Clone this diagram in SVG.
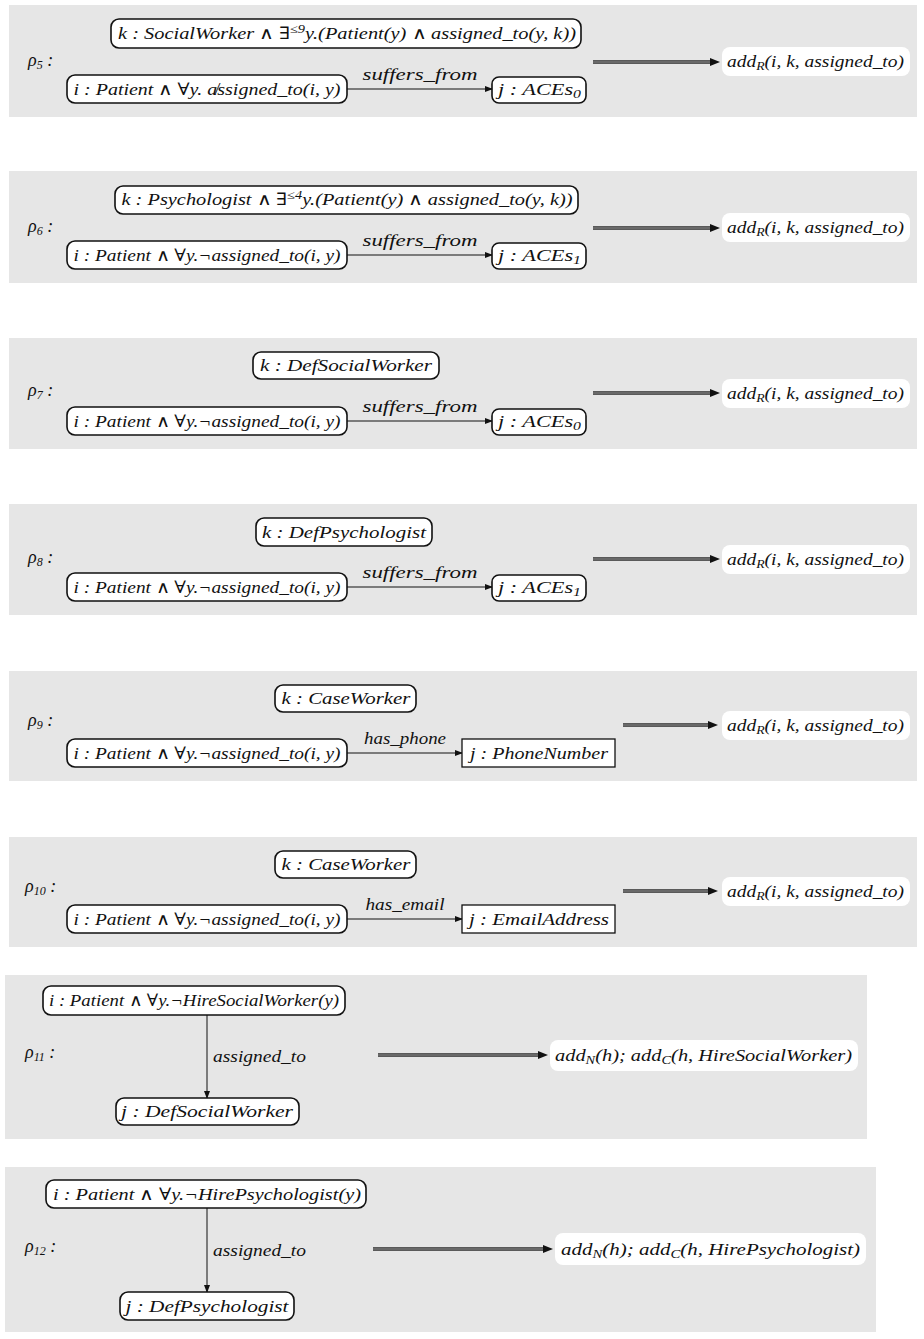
<svg xmlns="http://www.w3.org/2000/svg" width="924" height="1339" viewBox="0 0 924 1339">
<style>
.bg{fill:#fff}
.panel{fill:#e6e6e6}
.node{fill:#fff;stroke:#111;stroke-width:1.6}
.sq{fill:#fff;stroke:#111;stroke-width:1.3}
.res{fill:#fff}
.t{font-family:"Liberation Serif","DejaVu Serif",serif;font-style:italic;font-size:17px;fill:#111}
.lbl{font-family:"Liberation Serif","DejaVu Serif",serif;font-style:italic;font-size:18px;fill:#111}
.m{font-family:"DejaVu Sans",sans-serif;font-weight:200;font-style:normal}
.e{stroke:#111;stroke-width:1;fill:none}
.dout{stroke:#2b2b2b;stroke-width:3.6;fill:none}
.din{stroke:#a8a8a8;stroke-width:1;fill:none}
</style>
<defs>
<marker id="ah" markerUnits="userSpaceOnUse" markerWidth="8" markerHeight="6" refX="7" refY="3" orient="auto"><path d="M0,0 L8,3 L0,6 z" fill="#111"/></marker>
<marker id="dah" markerUnits="userSpaceOnUse" markerWidth="10" markerHeight="8" refX="2" refY="4" orient="auto"><path d="M0,0 L10,4 L0,8 z" fill="#111"/></marker>
</defs>
<rect class="bg" x="0" y="0" width="924" height="1339"/>

<g id="panels">
<rect class="panel" x="9" y="5" width="908" height="112"/>
<rect class="panel" x="9" y="171" width="908" height="112"/>
<rect class="panel" x="9" y="338" width="908" height="111"/>
<rect class="panel" x="9" y="504" width="908" height="111"/>
<rect class="panel" x="9" y="671" width="908" height="110"/>
<rect class="panel" x="9" y="837" width="908" height="110"/>
<rect class="panel" x="5" y="975" width="862" height="164"/>
<rect class="panel" x="5" y="1167" width="871" height="165"/>
</g>

<g id="rule-labels">
<text class="lbl" x="28" y="66">ρ<tspan font-size="12" dy="3">5</tspan><tspan dy="-3"> :</tspan></text>
<text class="lbl" x="28" y="232">ρ<tspan font-size="12" dy="3">6</tspan><tspan dy="-3"> :</tspan></text>
<text class="lbl" x="28" y="396">ρ<tspan font-size="12" dy="3">7</tspan><tspan dy="-3"> :</tspan></text>
<text class="lbl" x="28" y="563">ρ<tspan font-size="12" dy="3">8</tspan><tspan dy="-3"> :</tspan></text>
<text class="lbl" x="28" y="726">ρ<tspan font-size="12" dy="3">9</tspan><tspan dy="-3"> :</tspan></text>
<text class="lbl" x="25" y="892">ρ<tspan font-size="12" dy="3">10</tspan><tspan dy="-3"> :</tspan></text>
<text class="lbl" x="25" y="1058">ρ<tspan font-size="12" dy="3">11</tspan><tspan dy="-3"> :</tspan></text>
<text class="lbl" x="25" y="1252">ρ<tspan font-size="12" dy="3">12</tspan><tspan dy="-3"> :</tspan></text>
</g>

<g id="connectors">
<line class="e" x1="347" y1="89" x2="492" y2="89" marker-end="url(#ah)"/>
<line class="e" x1="347" y1="255" x2="492" y2="255" marker-end="url(#ah)"/>
<line class="e" x1="347" y1="421" x2="492" y2="421" marker-end="url(#ah)"/>
<line class="e" x1="347" y1="587" x2="492" y2="587" marker-end="url(#ah)"/>
<line class="e" x1="347" y1="753" x2="462" y2="753" marker-end="url(#ah)"/>
<line class="e" x1="347" y1="919" x2="462" y2="919" marker-end="url(#ah)"/>
<line class="e" x1="207" y1="1015" x2="207" y2="1098" marker-end="url(#ah)"/>
<line class="e" x1="207" y1="1208" x2="207" y2="1292" marker-end="url(#ah)"/>
<text class="t" x="420" y="80" text-anchor="middle" textLength="115" lengthAdjust="spacingAndGlyphs">suffers_from</text>
<text class="t" x="420" y="246" text-anchor="middle" textLength="115" lengthAdjust="spacingAndGlyphs">suffers_from</text>
<text class="t" x="420" y="412" text-anchor="middle" textLength="115" lengthAdjust="spacingAndGlyphs">suffers_from</text>
<text class="t" x="420" y="578" text-anchor="middle" textLength="115" lengthAdjust="spacingAndGlyphs">suffers_from</text>
<text class="t" x="405" y="744" text-anchor="middle" textLength="82" lengthAdjust="spacingAndGlyphs">has_phone</text>
<text class="t" x="405" y="910" text-anchor="middle" textLength="79" lengthAdjust="spacingAndGlyphs">has_email</text>
<text class="t" x="213" y="1062" textLength="93" lengthAdjust="spacingAndGlyphs">assigned_to</text>
<text class="t" x="213" y="1256" textLength="93" lengthAdjust="spacingAndGlyphs">assigned_to</text>
<line class="dout" x1="593" y1="62" x2="712" y2="62"/><line class="din" x1="593" y1="62" x2="712" y2="62" marker-end="url(#dah)"/>
<line class="dout" x1="593" y1="228" x2="712" y2="228"/><line class="din" x1="593" y1="228" x2="712" y2="228" marker-end="url(#dah)"/>
<line class="dout" x1="593" y1="393" x2="712" y2="393"/><line class="din" x1="593" y1="393" x2="712" y2="393" marker-end="url(#dah)"/>
<line class="dout" x1="593" y1="559" x2="712" y2="559"/><line class="din" x1="593" y1="559" x2="712" y2="559" marker-end="url(#dah)"/>
<line class="dout" x1="623" y1="725" x2="710" y2="725"/><line class="din" x1="623" y1="725" x2="710" y2="725" marker-end="url(#dah)"/>
<line class="dout" x1="623" y1="891" x2="710" y2="891"/><line class="din" x1="623" y1="891" x2="710" y2="891" marker-end="url(#dah)"/>
<line class="dout" x1="378" y1="1055" x2="540" y2="1055"/><line class="din" x1="378" y1="1055" x2="540" y2="1055" marker-end="url(#dah)"/>
<line class="dout" x1="373" y1="1249" x2="545" y2="1249"/><line class="din" x1="373" y1="1249" x2="545" y2="1249" marker-end="url(#dah)"/>
</g>

<g id="r5-k"><rect class="node" x="111" y="19" width="470" height="29" rx="8"/>
<text class="t" x="347" y="39" text-anchor="middle" textLength="458" lengthAdjust="spacingAndGlyphs">k : SocialWorker <tspan class="m">∧</tspan> ∃<tspan font-size="12" dy="-6">≤9</tspan><tspan dy="6">y.(Patient(y) </tspan><tspan class="m">∧</tspan> assigned_to(y, k))</text></g>
<g id="r5-i"><rect class="node" x="67" y="75" width="280" height="28" rx="8"/>
<text class="t" x="207" y="95" text-anchor="middle" textLength="267" lengthAdjust="spacingAndGlyphs">i : Patient <tspan class="m">∧</tspan> ∀y. a̸ssigned_to(i, y)</text></g>
<g id="r5-j"><rect class="node" x="492" y="77" width="94" height="26" rx="7"/>
<text class="t" x="498" y="95" textLength="83" lengthAdjust="spacingAndGlyphs">j : ACEs<tspan font-size="12" dy="3">0</tspan></text></g>
<g id="r5-res"><rect class="res" x="722" y="47" width="188" height="29" rx="8"/>
<text class="t" x="727" y="67" textLength="177" lengthAdjust="spacingAndGlyphs">add<tspan font-size="12" dy="3">R</tspan><tspan dy="-3">(i, k, assigned_to)</tspan></text></g>

<g id="r6-k"><rect class="node" x="115" y="186" width="463" height="28" rx="8"/>
<text class="t" x="347" y="205" text-anchor="middle" textLength="451" lengthAdjust="spacingAndGlyphs">k : Psychologist <tspan class="m">∧</tspan> ∃<tspan font-size="12" dy="-6">≤4</tspan><tspan dy="6">y.(Patient(y) </tspan><tspan class="m">∧</tspan> assigned_to(y, k))</text></g>
<g id="r6-i"><rect class="node" x="67" y="241" width="280" height="28" rx="8"/>
<text class="t" x="207" y="261" text-anchor="middle" textLength="267" lengthAdjust="spacingAndGlyphs">i : Patient <tspan class="m">∧</tspan> ∀y.¬assigned_to(i, y)</text></g>
<g id="r6-j"><rect class="node" x="492" y="243" width="94" height="26" rx="7"/>
<text class="t" x="498" y="261" textLength="83" lengthAdjust="spacingAndGlyphs">j : ACEs<tspan font-size="12" dy="3">1</tspan></text></g>
<g id="r6-res"><rect class="res" x="722" y="213" width="188" height="29" rx="8"/>
<text class="t" x="727" y="233" textLength="177" lengthAdjust="spacingAndGlyphs">add<tspan font-size="12" dy="3">R</tspan><tspan dy="-3">(i, k, assigned_to)</tspan></text></g>

<g id="r7-k"><rect class="node" x="253" y="352" width="186" height="27" rx="8"/>
<text class="t" x="346" y="371" text-anchor="middle" textLength="172" lengthAdjust="spacingAndGlyphs">k : DefSocialWorker</text></g>
<g id="r7-i"><rect class="node" x="67" y="407" width="280" height="28" rx="8"/>
<text class="t" x="207" y="427" text-anchor="middle" textLength="267" lengthAdjust="spacingAndGlyphs">i : Patient <tspan class="m">∧</tspan> ∀y.¬assigned_to(i, y)</text></g>
<g id="r7-j"><rect class="node" x="492" y="409" width="94" height="26" rx="7"/>
<text class="t" x="498" y="427" textLength="83" lengthAdjust="spacingAndGlyphs">j : ACEs<tspan font-size="12" dy="3">0</tspan></text></g>
<g id="r7-res"><rect class="res" x="722" y="379" width="188" height="29" rx="8"/>
<text class="t" x="727" y="399" textLength="177" lengthAdjust="spacingAndGlyphs">add<tspan font-size="12" dy="3">R</tspan><tspan dy="-3">(i, k, assigned_to)</tspan></text></g>

<g id="r8-k"><rect class="node" x="256" y="518" width="176" height="28" rx="8"/>
<text class="t" x="344" y="538" text-anchor="middle" textLength="164" lengthAdjust="spacingAndGlyphs">k : DefPsychologist</text></g>
<g id="r8-i"><rect class="node" x="67" y="573" width="280" height="28" rx="8"/>
<text class="t" x="207" y="593" text-anchor="middle" textLength="267" lengthAdjust="spacingAndGlyphs">i : Patient <tspan class="m">∧</tspan> ∀y.¬assigned_to(i, y)</text></g>
<g id="r8-j"><rect class="node" x="492" y="575" width="94" height="26" rx="7"/>
<text class="t" x="498" y="593" textLength="83" lengthAdjust="spacingAndGlyphs">j : ACEs<tspan font-size="12" dy="3">1</tspan></text></g>
<g id="r8-res"><rect class="res" x="722" y="545" width="188" height="29" rx="8"/>
<text class="t" x="727" y="565" textLength="177" lengthAdjust="spacingAndGlyphs">add<tspan font-size="12" dy="3">R</tspan><tspan dy="-3">(i, k, assigned_to)</tspan></text></g>

<g id="r9-k"><rect class="node" x="275" y="685" width="141" height="27" rx="8"/>
<text class="t" x="346" y="704" text-anchor="middle" textLength="129" lengthAdjust="spacingAndGlyphs">k : CaseWorker</text></g>
<g id="r9-i"><rect class="node" x="67" y="739" width="280" height="28" rx="8"/>
<text class="t" x="207" y="759" text-anchor="middle" textLength="267" lengthAdjust="spacingAndGlyphs">i : Patient <tspan class="m">∧</tspan> ∀y.¬assigned_to(i, y)</text></g>
<g id="r9-j"><rect class="sq" x="462" y="739" width="153" height="28"/>
<text class="t" x="539" y="759" text-anchor="middle" textLength="138" lengthAdjust="spacingAndGlyphs">j : PhoneNumber</text></g>
<g id="r9-res"><rect class="res" x="722" y="711" width="188" height="29" rx="8"/>
<text class="t" x="727" y="731" textLength="177" lengthAdjust="spacingAndGlyphs">add<tspan font-size="12" dy="3">R</tspan><tspan dy="-3">(i, k, assigned_to)</tspan></text></g>

<g id="r10-k"><rect class="node" x="275" y="851" width="141" height="27" rx="8"/>
<text class="t" x="346" y="870" text-anchor="middle" textLength="129" lengthAdjust="spacingAndGlyphs">k : CaseWorker</text></g>
<g id="r10-i"><rect class="node" x="67" y="905" width="280" height="28" rx="8"/>
<text class="t" x="207" y="925" text-anchor="middle" textLength="267" lengthAdjust="spacingAndGlyphs">i : Patient <tspan class="m">∧</tspan> ∀y.¬assigned_to(i, y)</text></g>
<g id="r10-j"><rect class="sq" x="462" y="905" width="153" height="28"/>
<text class="t" x="539" y="925" text-anchor="middle" textLength="140" lengthAdjust="spacingAndGlyphs">j : EmailAddress</text></g>
<g id="r10-res"><rect class="res" x="722" y="877" width="188" height="29" rx="8"/>
<text class="t" x="727" y="897" textLength="177" lengthAdjust="spacingAndGlyphs">add<tspan font-size="12" dy="3">R</tspan><tspan dy="-3">(i, k, assigned_to)</tspan></text></g>

<g id="r11-i"><rect class="node" x="43" y="986" width="302" height="29" rx="8"/>
<text class="t" x="194" y="1006" text-anchor="middle" textLength="290" lengthAdjust="spacingAndGlyphs">i : Patient <tspan class="m">∧</tspan> ∀y.¬HireSocialWorker(y)</text></g>
<g id="r11-j"><rect class="node" x="116" y="1098" width="183" height="27" rx="8"/>
<text class="t" x="207" y="1117" text-anchor="middle" textLength="172" lengthAdjust="spacingAndGlyphs">j : DefSocialWorker</text></g>
<g id="r11-res"><rect class="res" x="550" y="1040" width="308" height="31" rx="8"/>
<text class="t" x="555" y="1061" textLength="297" lengthAdjust="spacingAndGlyphs">add<tspan font-size="12" dy="3">N</tspan><tspan dy="-3">(h); add</tspan><tspan font-size="12" dy="3">C</tspan><tspan dy="-3">(h, HireSocialWorker)</tspan></text></g>

<g id="r12-i"><rect class="node" x="46" y="1180" width="320" height="28" rx="8"/>
<text class="t" x="207" y="1200" text-anchor="middle" textLength="308" lengthAdjust="spacingAndGlyphs">i : Patient <tspan class="m">∧</tspan> ∀y.¬HirePsychologist(y)</text></g>
<g id="r12-j"><rect class="node" x="120" y="1292" width="174" height="28" rx="8"/>
<text class="t" x="207" y="1312" text-anchor="middle" textLength="163" lengthAdjust="spacingAndGlyphs">j : DefPsychologist</text></g>
<g id="r12-res"><rect class="res" x="555" y="1233" width="311" height="32" rx="8"/>
<text class="t" x="561" y="1255" textLength="299" lengthAdjust="spacingAndGlyphs">add<tspan font-size="12" dy="3">N</tspan><tspan dy="-3">(h); add</tspan><tspan font-size="12" dy="3">C</tspan><tspan dy="-3">(h, HirePsychologist)</tspan></text></g>
</svg>
